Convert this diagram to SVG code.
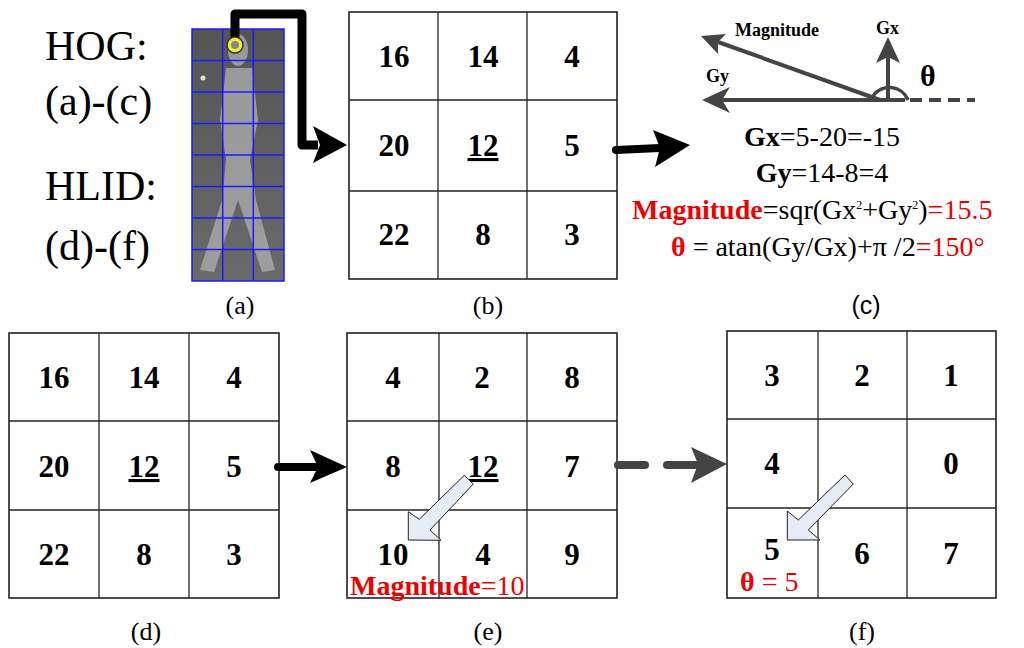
<svg xmlns="http://www.w3.org/2000/svg" width="1024" height="648" viewBox="0 0 1024 648">
<defs>
<style>
.g{fill:#fff;stroke:#222;stroke-width:1.6}
.l{stroke:#222;stroke-width:1.3}
.n{font-family:'Liberation Serif',serif;font-weight:bold;font-size:31px;text-anchor:middle;fill:#000}
.cap{font-family:'Liberation Serif',serif;font-size:26px;text-anchor:middle;fill:#000}
.big{font-family:'Liberation Serif',serif;font-size:42px;fill:#000}
.eq{font-family:'Liberation Serif',serif;font-size:28px;fill:#000}
.r{fill:#e00}
.b{font-weight:bold}
.blue{stroke:#1a1aff;stroke-width:1.5}
.ba{fill:#e6ecf6;stroke:#222;stroke-width:1}
</style>
<linearGradient id="bg" x1="0" y1="0" x2="0" y2="1"><stop offset="0" stop-color="#555"/><stop offset="1" stop-color="#6a6a6a"/></linearGradient>
</defs>
<rect width="1024" height="648" fill="#fff"/>
<g id="labels-left">
<text class="big" x="45" y="60">HOG:</text>
<text class="big" x="45" y="115">(a)-(c)</text>
<text class="big" x="45" y="200">HLID:</text>
<text class="big" x="45" y="260">(d)-(f)</text>
</g>
<g id="node-a">
<rect x="192" y="29" width="92" height="252" fill="url(#bg)"/>
<g fill="#aaa" opacity="0.8">
<ellipse cx="238" cy="50" rx="10" ry="16"/>
<path d="M226 68 L252 68 L258 120 L250 160 L256 200 L275 270 L262 272 L238 200 L214 272 L200 270 L222 200 L226 160 L220 120 Z"/>
</g>
<circle cx="203" cy="78" r="2.5" fill="#ddd"/>
<g class="blue">
<rect x="192" y="29" width="92" height="252" fill="none"/>
<line x1="222.7" y1="29" x2="222.7" y2="281"/><line x1="253.3" y1="29" x2="253.3" y2="281"/>
<line x1="192" y1="60.5" x2="284" y2="60.5"/><line x1="192" y1="92" x2="284" y2="92"/><line x1="192" y1="123.5" x2="284" y2="123.5"/><line x1="192" y1="155" x2="284" y2="155"/><line x1="192" y1="186.5" x2="284" y2="186.5"/><line x1="192" y1="218" x2="284" y2="218"/><line x1="192" y1="249.5" x2="284" y2="249.5"/>
</g>
<text class="cap" x="240" y="314">(a)</text>
</g>
<g id="node-b">
<rect class="g" x="349" y="12" width="268" height="267"/>
<line class="l" x1="438" y1="12" x2="438" y2="279"/><line class="l" x1="527" y1="12" x2="527" y2="279"/>
<line class="l" x1="349" y1="100" x2="617" y2="100"/><line class="l" x1="349" y1="191" x2="617" y2="191"/>
<text class="n" x="394" y="67">16</text><text class="n" x="483" y="67">14</text><text class="n" x="572" y="67">4</text>
<text class="n" x="394" y="156">20</text><text class="n" x="483" y="156" text-decoration="underline">12</text><text class="n" x="572" y="156">5</text>
<text class="n" x="394" y="245">22</text><text class="n" x="483" y="245">8</text><text class="n" x="572" y="245">3</text>
<text class="cap" x="488" y="314">(b)</text>
</g>
<g id="node-c">
<g stroke="#444" stroke-width="4" fill="#444">
<line x1="905" y1="100" x2="720" y2="100"/>
<polygon points="702,100 730,87 722,100 730,113" stroke="none"/>
<line x1="910" y1="100" x2="975" y2="100" stroke-dasharray="12,7"/>
<line x1="888" y1="100" x2="888" y2="55"/>
<polygon points="888,37 876,63 888,57 900,63" stroke="none"/>
<line x1="880" y1="100" x2="718" y2="42"/>
<polygon points="701,36 726,34 718,42 718,54" stroke="none"/>
<path d="M873 96 A20 20 0 0 1 908 100" fill="none" stroke-width="3.5"/>
</g>
<text x="735" y="36" font-family="'Liberation Serif', serif" font-weight="bold" font-size="18">Magnitude</text>
<text x="876" y="34" font-family="'Liberation Serif', serif" font-weight="bold" font-size="18">Gx</text>
<text x="706" y="82" font-family="'Liberation Serif', serif" font-weight="bold" font-size="18">Gy</text>
<text x="920" y="86" font-family="'Liberation Serif', serif" font-weight="bold" font-size="30">θ</text>
<text class="eq" x="822" y="146" text-anchor="middle"><tspan class="b">Gx</tspan>=5-20=-15</text>
<text class="eq" x="822" y="182" text-anchor="middle"><tspan class="b">Gy</tspan>=14-8=4</text>
<text class="eq" x="632" y="219"><tspan class="r b">Magnitude</tspan>=sqr(Gx<tspan font-size="12" dy="-10">2</tspan><tspan dy="10">+Gy</tspan><tspan font-size="12" dy="-10">2</tspan><tspan dy="10">)</tspan><tspan class="r">=15.5</tspan></text>
<text class="eq" x="671" y="256"><tspan class="r b">θ</tspan> = atan(Gy/Gx)+π /2<tspan class="r">=150°</tspan></text>
<text x="866" y="314" font-family="'Liberation Sans', sans-serif" font-size="25" text-anchor="middle">(c)</text>
</g>
<g id="node-d">
<rect class="g" x="9" y="333" width="270" height="265"/>
<line class="l" x1="99" y1="333" x2="99" y2="598"/><line class="l" x1="189" y1="333" x2="189" y2="598"/>
<line class="l" x1="9" y1="421" x2="279" y2="421"/><line class="l" x1="9" y1="510" x2="279" y2="510"/>
<text class="n" x="54" y="388">16</text><text class="n" x="144" y="388">14</text><text class="n" x="234" y="388">4</text>
<text class="n" x="54" y="477">20</text><text class="n" x="144" y="477" text-decoration="underline">12</text><text class="n" x="234" y="477">5</text>
<text class="n" x="54" y="565">22</text><text class="n" x="144" y="565">8</text><text class="n" x="234" y="565">3</text>
<text class="cap" x="146" y="640">(d)</text>
</g>
<g id="node-e">
<rect class="g" x="347" y="333" width="270" height="265"/>
<line class="l" x1="439" y1="333" x2="439" y2="598"/><line class="l" x1="527" y1="333" x2="527" y2="598"/>
<line class="l" x1="347" y1="421" x2="617" y2="421"/><line class="l" x1="347" y1="510" x2="617" y2="510"/>
<text class="n" x="393" y="388">4</text><text class="n" x="482" y="388">2</text><text class="n" x="572" y="388">8</text>
<text class="n" x="393" y="477">8</text><text class="n" x="483" y="477" text-decoration="underline">12</text><text class="n" x="572" y="477">7</text>
<text class="n" x="393" y="565">10</text><text class="n" x="483" y="565">4</text><text class="n" x="572" y="565">9</text>
<polygon class="ba" points="464.3,475.3 473.3,484 430,530 441,540.3 408.3,540 408.3,511.7 419.3,519.3"/>
<text x="350" y="595" class="eq r"><tspan class="b">Magnitude</tspan>=10</text>
<text class="cap" x="488" y="640">(e)</text>
</g>
<g id="node-f">
<rect class="g" x="727" y="331" width="269" height="267"/>
<line class="l" x1="818" y1="331" x2="818" y2="598"/><line class="l" x1="907" y1="331" x2="907" y2="598"/>
<line class="l" x1="727" y1="419" x2="996" y2="419"/><line class="l" x1="727" y1="508" x2="996" y2="508"/>
<text class="n" x="772" y="386">3</text><text class="n" x="862" y="386">2</text><text class="n" x="951" y="386">1</text>
<text class="n" x="772" y="474">4</text><text class="n" x="951" y="474">0</text>
<text class="n" x="772" y="560">5</text><text class="n" x="862" y="564">6</text><text class="n" x="951" y="564">7</text>
<polygon class="ba" points="845,475 853.3,484 808.3,530 820,540 787.3,540 787.3,511 798.3,520"/>
<text x="740" y="591" class="eq r" font-size="25"><tspan class="b">θ</tspan> = 5</text>
<text class="cap" x="862" y="640">(f)</text>
</g>
<g id="connectors">
<path d="M235 45 V14 H302 V145 H318" fill="none" stroke="#000" stroke-width="9" stroke-linejoin="round"/>
<polygon points="347,145 313,126 320,145 313,163" fill="#000"/>
<circle cx="235" cy="45" r="8" fill="#ee3" stroke="#333" stroke-width="1.5"/>
<circle cx="235" cy="45" r="4" fill="#888"/>
<line x1="616" y1="150" x2="660" y2="148" stroke="#000" stroke-width="8" stroke-linecap="round"/>
<polygon points="690,145 653,130 660,148 655,167" fill="#000"/>
<line x1="278" y1="467" x2="320" y2="467" stroke="#000" stroke-width="8" stroke-linecap="round"/>
<polygon points="347,467 310,450 318,467 310,483" fill="#000"/>
<line x1="618" y1="465" x2="645" y2="465" stroke="#444" stroke-width="8" stroke-linecap="round"/>
<line x1="667" y1="465" x2="705" y2="465" stroke="#444" stroke-width="8" stroke-linecap="round"/>
<polygon points="727,464 691,447 698,464 691,483" fill="#444"/>
</g>
</svg>
